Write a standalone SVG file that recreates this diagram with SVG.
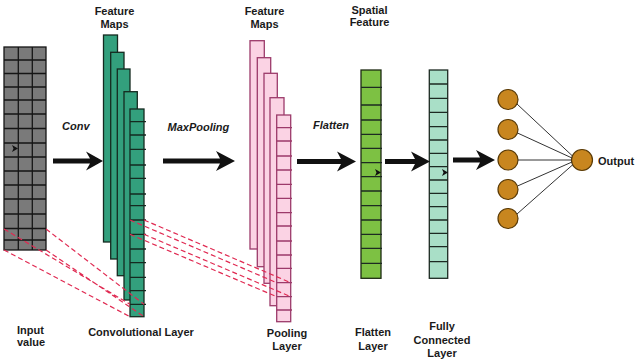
<svg xmlns="http://www.w3.org/2000/svg" width="640" height="362" viewBox="0 0 640 362">
<style>
.lbl{font-family:"Liberation Sans",Arial,sans-serif;font-size:11px;font-weight:bold;fill:#1a1a1a}
.op{font-style:italic;text-anchor:start}
.c{text-anchor:middle}
.grid{fill:#7a7a7a;stroke:#151515;stroke-width:1.3}
.gl{stroke:#151515;stroke-width:1.3}
.conv{fill:#33a07d;stroke:#152a20;stroke-width:1.3}
.cl{stroke:#152a20;stroke-width:1.3}
.pool{fill:#fbd3e4;stroke:#9c3a6a;stroke-width:1.3}
.pl{stroke:#9c3a6a;stroke-width:1.3}
.flat{fill:#7dc143;stroke:#1d2a12;stroke-width:1.3}
.fc{fill:#a9dfc7;stroke:#1d2a22;stroke-width:1.3}
.dl{stroke:#1d2a22;stroke-width:1.3}
.red{stroke:#e02a52;stroke-width:1.2;stroke-dasharray:5,3;fill:none}
.arr{fill:#111}
.neu{fill:#c8861f;stroke:#5a3a05;stroke-width:1.2}
.w{stroke:#333;stroke-width:1}
</style>

<g id="input">
  <rect class="grid" x="4" y="47" width="42" height="203"/>
  <path class="gl" d="M18.3,47V250M32.3,47V250M4,60H46M4,73.5H46M4,87H46M4,100H46M4,114H46M4,128.5H46M4,143H46M4,157H46M4,171H46M4,185H46M4,199H46M4,214H46M4,228.5H46M4,240H46"/>
  <text class="lbl" x="17" y="334">Input</text>
  <text class="lbl" x="17" y="346">value</text>
</g>

<g id="conv-layer">
  <text class="lbl c" x="114.5" y="15">Feature</text>
  <text class="lbl c" x="114.5" y="27.5">Maps</text>
  <rect class="conv" x="103.5" y="35" width="14" height="207"/>
  <rect class="conv" x="110.7" y="52.3" width="13.3" height="206.7"/>
  <rect class="conv" x="117.3" y="69" width="12.7" height="206.7"/>
  <rect class="conv" x="124" y="91.7" width="13.3" height="208.3"/>
  <rect class="conv" x="130" y="109" width="14" height="207.7"/>
  <path class="cl" d="M130,121.7H146M130,135H146M130,149.3H146M130,165H146M130,178.3H146M130,194H146M130,205.7H146M130,220H146M130,234.3H146M130,249H146M130,262.7H146M130,277.3H146M130,290.7H146M130,304.3H146"/>
  <text class="lbl c" x="141" y="336">Convolutional Layer</text>
</g>

<g id="pooling-layer">
  <text class="lbl c" x="264.5" y="15">Feature</text>
  <text class="lbl c" x="264.5" y="27.5">Maps</text>
  <rect class="pool" x="250" y="40.7" width="14.3" height="208.3"/>
  <rect class="pool" x="257.3" y="57.7" width="13.4" height="209"/>
  <rect class="pool" x="264" y="73.3" width="13.3" height="210"/>
  <rect class="pool" x="270" y="97.7" width="14" height="208"/>
  <rect class="pool" x="276.7" y="115" width="14" height="206.7"/>
  <path class="pl" d="M276.7,127.7H292M276.7,141H292M276.7,156H292M276.7,170H292M276.7,184.3H292M276.7,198.3H292M276.7,212.7H292M276.7,226H292M276.7,241H292M276.7,255H292M276.7,268.3H292M276.7,282.7H292M276.7,296.7H292M276.7,310H292"/>
  <text class="lbl c" x="287" y="336.5">Pooling</text>
  <text class="lbl c" x="287" y="350">Layer</text>
</g>

<g id="flatten-layer">
  <text class="lbl c" x="369.5" y="13.5">Spatial</text>
  <text class="lbl c" x="369.5" y="26">Feature</text>
  <rect class="flat" x="361" y="70" width="20" height="208.3"/>
  <path class="dl" d="M361,87.3H382M361,105H382M361,120H382M361,134.3H382M361,148.3H382M361,162.7H382M361,176.7H382M361,191H382M361,205.7H382M361,220H382M361,234.3H382M361,248.3H382M361,263.3H382"/>
  <text class="lbl c" x="373" y="336">Flatten</text>
  <text class="lbl c" x="373" y="350">Layer</text>
</g>

<g id="fc-layer">
  <rect class="fc" x="429.3" y="70" width="18.4" height="208.3"/>
  <path class="dl" d="M429.3,84H448M429.3,98.3H448M429.3,112.3H448M429.3,126.7H448M429.3,140H448M429.3,153.3H448M429.3,166.7H448M429.3,180H448M429.3,193.3H448M429.3,206.7H448M429.3,220H448M429.3,233.3H448M429.3,246.7H448M429.3,261.7H448"/>
  <text class="lbl c" x="442" y="330">Fully</text>
  <text class="lbl c" x="442" y="344">Connected</text>
  <text class="lbl c" x="442" y="357">Layer</text>
</g>

<g id="dense-nodes">
  <circle class="neu" cx="508" cy="99.5" r="10"/>
  <circle class="neu" cx="508" cy="129.5" r="10"/>
  <circle class="neu" cx="508" cy="160" r="10"/>
  <circle class="neu" cx="508" cy="189.5" r="10"/>
  <circle class="neu" cx="508" cy="218.5" r="10"/>
</g>

<g id="output-node">
  <circle class="neu" cx="582" cy="160" r="10.5"/>
  <text class="lbl" x="598" y="165">Output</text>
</g>

<g id="operations">
  <text class="lbl op" x="62" y="130">Conv</text>
  <text class="lbl op" x="167.5" y="130.5">MaxPooling</text>
  <text class="lbl op" x="313" y="128.5">Flatten</text>
</g>

<g id="connectors">
  <path class="red" d="M4,229L130,304.3M46,229L144,304.3M4,250L130,316.7M46,250L144,316.7"/>
  <path class="red" d="M130,220L276.7,282.7M144,220L290.7,282.7M130,234.3L276.7,296.7M144,234.3L290.7,296.7"/>
  <path class="arr" d="M53,158.5H90L86,151.5L103,161L86,170.5L90,163.5H53Z"/>
  <path class="arr" d="M163,158.5H220L216,151L235,161L216,171L220,163.5H163Z"/>
  <path class="arr" d="M297,159H341L337,151.5L356,161.5L337,171.5L341,164H297Z"/>
  <path class="arr" d="M385,159H415L411,151.5L430,161.5L411,171.5L415,164H385Z"/>
  <path class="arr" d="M453,157.5H480L476,150L495,160L476,170L480,162.5H453Z"/>
  <path class="w" d="M517,104L572.5,156M517.5,133L572,158M518,160H571.5M517.5,186L572,162M517,214L573,164.5"/>
  <path class="arr" d="M12,145L18,148.5L12,152L13.5,148.5Z"/>
  <path class="arr" d="M375,169L381,172.5L375,176L376.5,172.5Z"/>
  <path class="arr" d="M442,169L448,172.5L442,176L443.5,172.5Z"/>
</g>
</svg>
